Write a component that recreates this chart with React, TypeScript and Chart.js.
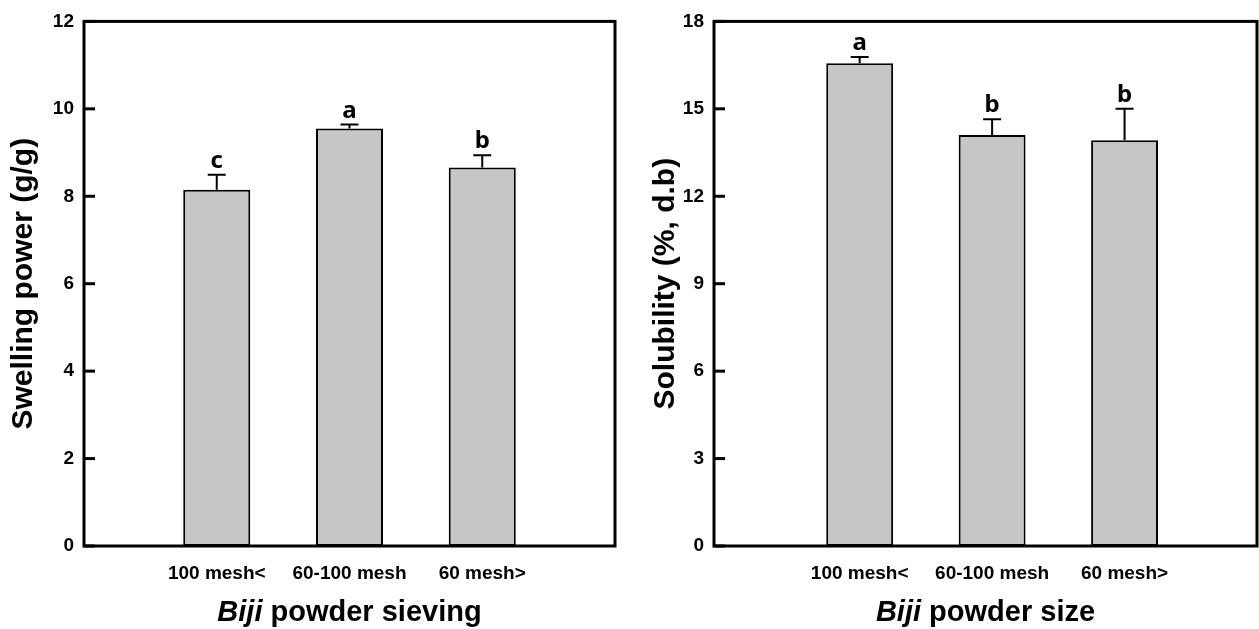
import React, { useEffect, useRef } from 'react';
import { Chart, registerables } from 'chart.js';

Chart.register(...registerables);

// Left panel: swelling power by sieving fraction
const sievingCategories = ['100 mesh<', '60-100 mesh', '60 mesh>'];
const swellingPower = [8.15, 9.55, 8.66];
const swellingError = [0.34, 0.09, 0.28];
const swellingLetters = ['c', 'a', 'b'];
const swellingTicks = [0, 2, 4, 6, 8, 10, 12];
const swellingYTitle = 'Swelling power (g/g)';
const sievingXTitle = ['Biji', ' powder sieving'];

// Right panel: solubility by powder size
const sizeCategories = ['100 mesh<', '60-100 mesh', '60 mesh>'];
const solubility = [16.56, 14.1, 13.92];
const solubilityError = [0.22, 0.54, 1.08];
const solubilityLetters = ['a', 'b', 'b'];
const solubilityTicks = [0, 3, 6, 9, 12, 15, 18];
const solubilityYTitle = 'Solubility (%, d.b)';
const sizeXTitle = ['Biji', ' powder size'];

const FONT = '"Liberation Sans", Arial, sans-serif';

// Draws error bars, significance letters, the frame, inward ticks and the
// mixed-style x-axis title.
const panelDecor = {
  id: 'panelDecor',
  afterDatasetsDraw(chart: any, _args: any, opts: any) {
    const ctx = chart.ctx;
    const y = chart.scales.y;
    const meta = chart.getDatasetMeta(0);
    meta.data.forEach((bar: any, i: number) => {
      const base = y.getPixelForValue(opts.values[i]);
      const top = y.getPixelForValue(opts.values[i] + opts.errors[i]);
      ctx.save();
      ctx.strokeStyle = '#000';
      ctx.lineWidth = 2;
      ctx.beginPath();
      ctx.moveTo(bar.x, base);
      ctx.lineTo(bar.x, top);
      ctx.moveTo(bar.x - 9, top);
      ctx.lineTo(bar.x + 9, top);
      ctx.stroke();
      ctx.fillStyle = '#000';
      ctx.font = 'bold 24px "Noto Sans", sans-serif';
      ctx.textAlign = 'center';
      ctx.textBaseline = 'alphabetic';
      ctx.fillText(opts.letters[i], bar.x, top - 7);
      ctx.restore();
    });
  },
  afterDraw(chart: any, _args: any, opts: any) {
    const ctx = chart.ctx;
    const { left, right, top, bottom } = chart.chartArea;
    const y = chart.scales.y;
    ctx.save();
    ctx.strokeStyle = '#000';
    ctx.lineWidth = 3;
    ctx.strokeRect(left, top, right - left, bottom - top);

    // inward tick marks on the value axis
    ctx.lineWidth = 3;
    ctx.lineCap = 'butt';
    (opts.ticks as number[]).forEach((v) => {
      const py = y.getPixelForValue(v);
      ctx.beginPath();
      ctx.moveTo(left, py);
      ctx.lineTo(left + 11, py);
      ctx.stroke();
    });

    // x-axis title with italic first word
    const parts: string[] = opts.xTitle;
    const fonts = [`italic bold 29px ${FONT}`, `bold 29px ${FONT}`];
    const widths = parts.map((p, i) => {
      ctx.font = fonts[i];
      return ctx.measureText(p).width;
    });
    const total = widths.reduce((a, b) => a + b, 0);
    let x = (left + right) / 2 - total / 2;
    ctx.fillStyle = '#000';
    ctx.textAlign = 'left';
    ctx.textBaseline = 'alphabetic';
    parts.forEach((p, i) => {
      ctx.font = fonts[i];
      ctx.fillText(p, x, 621);
      x += widths[i];
    });
    ctx.restore();
  },
};

type PanelProps = {
  width: number;
  offsetX: number;
  categories: string[];
  values: number[];
  errors: number[];
  letters: string[];
  ticks: number[];
  yTitle: string;
  xTitle: string[];
  xMin: number;
  xMax: number;
  axisWidth: number;
  padRight: number;
  titlePad: number;
};

function Panel(p: PanelProps) {
  const ref = useRef<HTMLCanvasElement | null>(null);
  useEffect(() => {
    if (!ref.current) return;
    const step = p.ticks[1] - p.ticks[0];
    const chart = new Chart(ref.current, {
      type: 'bar',
      data: {
        datasets: [
          {
            data: p.values.map((v, i) => ({ x: i + 1, y: v })),
            backgroundColor: '#c6c6c6',
            borderColor: '#000',
            borderWidth: 2,
            borderSkipped: false,
            categoryPercentage: 1,
            barPercentage: 0.505,
          },
        ],
      },
      options: {
        animation: false,
        responsive: false,
        devicePixelRatio: 1,
        layout: { padding: { left: 0, top: 18, right: p.padRight, bottom: 0 } },
        plugins: {
          legend: { display: false },
          tooltip: { enabled: false },
          panelDecor: {
            values: p.values,
            errors: p.errors,
            letters: p.letters,
            xTitle: p.xTitle,
            ticks: p.ticks,
          },
        } as any,
        scales: {
          x: {
            type: 'linear',
            min: p.xMin,
            max: p.xMax,
            offset: false,
            grid: { display: false, drawTicks: false, tickLength: 0 },
            border: { display: false },
            afterBuildTicks: (s: any) => {
              s.ticks = p.categories.map((_, i) => ({ value: i + 1 }));
            },
            afterFit: (s: any) => {
              s.height = 83;
            },
            ticks: {
              autoSkip: false,
              maxRotation: 0,
              padding: 16,
              color: '#000',
              font: { family: FONT, size: 19, weight: 'bold' },
              callback: (v: any) => p.categories[Math.round(v) - 1] ?? '',
            },
          },
          y: {
            min: p.ticks[0],
            max: p.ticks[p.ticks.length - 1],
            grid: { display: false, drawTicks: false, tickLength: 0 },
            border: { display: false },
            afterFit: (s: any) => {
              s.width = p.axisWidth;
            },
            ticks: {
              stepSize: step,
              padding: 10,
              color: '#000',
              font: { family: FONT, size: 19, weight: 'bold' },
            },
            title: {
              display: true,
              text: p.yTitle,
              color: '#000',
              padding: { top: p.titlePad, bottom: 0 },
              font: { family: FONT, size: 30, weight: 'bold', lineHeight: 1 },
            },
          },
        },
      } as any,
      plugins: [panelDecor as any],
    });
    return () => chart.destroy();
  }, []);
  return (
    <canvas
      ref={ref}
      width={p.width}
      height={629}
      style={{ position: 'absolute', left: p.offsetX, top: 0, width: p.width, height: 629 }}
    />
  );
}

export default function App() {
  return (
    <div
      style={{
        position: 'fixed',
        left: 0,
        top: 0,
        width: 1259,
        height: 629,
        background: '#fff',
        overflow: 'hidden',
      }}
    >
      <Panel
        width={640}
        offsetX={0}
        categories={sievingCategories}
        values={swellingPower}
        errors={swellingError}
        letters={swellingLetters}
        ticks={swellingTicks}
        yTitle={swellingYTitle}
        xTitle={sievingXTitle}
        xMin={0}
        xMax={4}
        axisWidth={84}
        padRight={25}
        titlePad={9}
      />
      <Panel
        width={619}
        offsetX={640}
        categories={sizeCategories}
        values={solubility}
        errors={solubilityError}
        letters={solubilityLetters}
        ticks={solubilityTicks}
        yTitle={solubilityYTitle}
        xTitle={sizeXTitle}
        xMin={-0.1}
        xMax={4}
        axisWidth={74}
        padRight={2}
        titlePad={11}
      />
    </div>
  );
}
